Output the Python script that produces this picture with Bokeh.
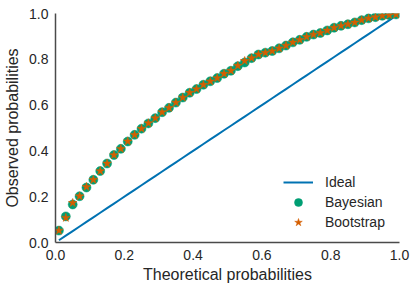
from bokeh.plotting import figure
from bokeh.models import Range1d, FixedTicker, Legend, LegendItem
from bokeh.embed import file_html
from bokeh.resources import INLINE

theoretical = [0.01, 0.03, 0.05, 0.07, 0.09, 0.11, 0.13, 0.15, 0.17, 0.19,
               0.21, 0.23, 0.25, 0.27, 0.29, 0.31, 0.33, 0.35, 0.37, 0.39,
               0.41, 0.43, 0.45, 0.47, 0.49, 0.51, 0.53, 0.55, 0.57, 0.59,
               0.61, 0.63, 0.65, 0.67, 0.69, 0.71, 0.73, 0.75, 0.77, 0.79,
               0.81, 0.83, 0.85, 0.87, 0.89, 0.91, 0.93, 0.95, 0.97, 0.99]

ideal = [0.01, 0.03, 0.05, 0.07, 0.09, 0.11, 0.13, 0.15, 0.17, 0.19,
         0.21, 0.23, 0.25, 0.27, 0.29, 0.31, 0.33, 0.35, 0.37, 0.39,
         0.41, 0.43, 0.45, 0.47, 0.49, 0.51, 0.53, 0.55, 0.57, 0.59,
         0.61, 0.63, 0.65, 0.67, 0.69, 0.71, 0.73, 0.75, 0.77, 0.79,
         0.81, 0.83, 0.85, 0.87, 0.89, 0.91, 0.93, 0.95, 0.97, 0.99]

bayesian = [0.052, 0.114, 0.166, 0.202, 0.240, 0.274, 0.312, 0.345, 0.382, 0.409,
            0.441, 0.470, 0.497, 0.520, 0.543, 0.569, 0.588, 0.611, 0.633, 0.654,
            0.670, 0.689, 0.704, 0.718, 0.737, 0.750, 0.770, 0.786, 0.805, 0.821,
            0.829, 0.836, 0.848, 0.860, 0.874, 0.885, 0.898, 0.908, 0.915, 0.926,
            0.938, 0.946, 0.953, 0.961, 0.971, 0.979, 0.984, 0.990, 0.993, 0.996]

bootstrap = [0.052, 0.108, 0.173, 0.202, 0.243, 0.274, 0.312, 0.345, 0.382, 0.409,
             0.442, 0.470, 0.497, 0.521, 0.543, 0.569, 0.588, 0.611, 0.633, 0.654,
             0.670, 0.689, 0.704, 0.718, 0.737, 0.750, 0.772, 0.793, 0.805, 0.821,
             0.829, 0.836, 0.848, 0.860, 0.874, 0.885, 0.898, 0.908, 0.915, 0.926,
             0.938, 0.946, 0.953, 0.961, 0.971, 0.979, 0.984, 0.990, 0.993, 0.996]

tick_values = [0.0, 0.2, 0.4, 0.6, 0.8, 1.0]
tick_labels = ["0.0", "0.2", "0.4", "0.6", "0.8", "1.0"]

FONT = "Liberation Sans"
TEXT = "#262626"
AXIS = "#4a4a4a"

p = figure(frame_width=344, frame_height=229,
           min_border_left=55, min_border_right=17,
           min_border_top=13, min_border_bottom=49,
           x_range=Range1d(0, 1), y_range=Range1d(0, 1),
           output_backend="svg", toolbar_location=None)

p.outline_line_color = None
p.grid.visible = False
p.background_fill_color = "white"
p.border_fill_color = "white"

for ax in (p.xaxis[0], p.yaxis[0]):
    ax.ticker = FixedTicker(ticks=tick_values)
    ax.major_label_overrides = {v: s for v, s in zip(tick_values, tick_labels)}
    ax.major_tick_out = 0
    ax.major_tick_in = 0
    ax.minor_tick_out = 0
    ax.minor_tick_in = 0
    ax.axis_line_color = AXIS
    ax.axis_line_width = 1.5
    ax.major_label_text_font = FONT
    ax.major_label_text_font_size = "14px"
    ax.major_label_text_color = TEXT
    ax.axis_label_text_font = FONT
    ax.axis_label_text_font_size = "16px"
    ax.axis_label_text_font_style = "normal"
    ax.axis_label_text_color = TEXT

p.xaxis.axis_label = "Theoretical probabilities"
p.yaxis.axis_label = "Observed probabilities"
p.xaxis.major_label_standoff = 7
p.yaxis.major_label_standoff = 7
p.xaxis.axis_label_standoff = 3
p.yaxis.axis_label_standoff = 5

r_ideal = p.line(theoretical, ideal, line_color="#0072B2", line_width=2)
r_bayes = p.scatter(theoretical, bayesian, marker="circle", size=9,
                    fill_color="#009E73", line_color="#009E73", line_alpha=0.5)
r_boot = p.scatter(theoretical, bootstrap, marker="star", size=9,
                   fill_color="#D55E00", line_color="#D55E00", line_width=0.5)

legend = Legend(items=[LegendItem(label="Ideal", renderers=[r_ideal]),
                       LegendItem(label="Bayesian", renderers=[r_bayes]),
                       LegendItem(label="Bootstrap", renderers=[r_boot])],
                location=(228, 10), padding=0, margin=0, spacing=0,
                glyph_width=30, glyph_height=20, label_height=20,
                label_standoff=12, border_line_color=None,
                background_fill_alpha=0,
                label_text_font=FONT, label_text_font_size="14px",
                label_text_color=TEXT)
p.add_layout(legend, "center")

open("out.html", "w").write(file_html(p, INLINE))
